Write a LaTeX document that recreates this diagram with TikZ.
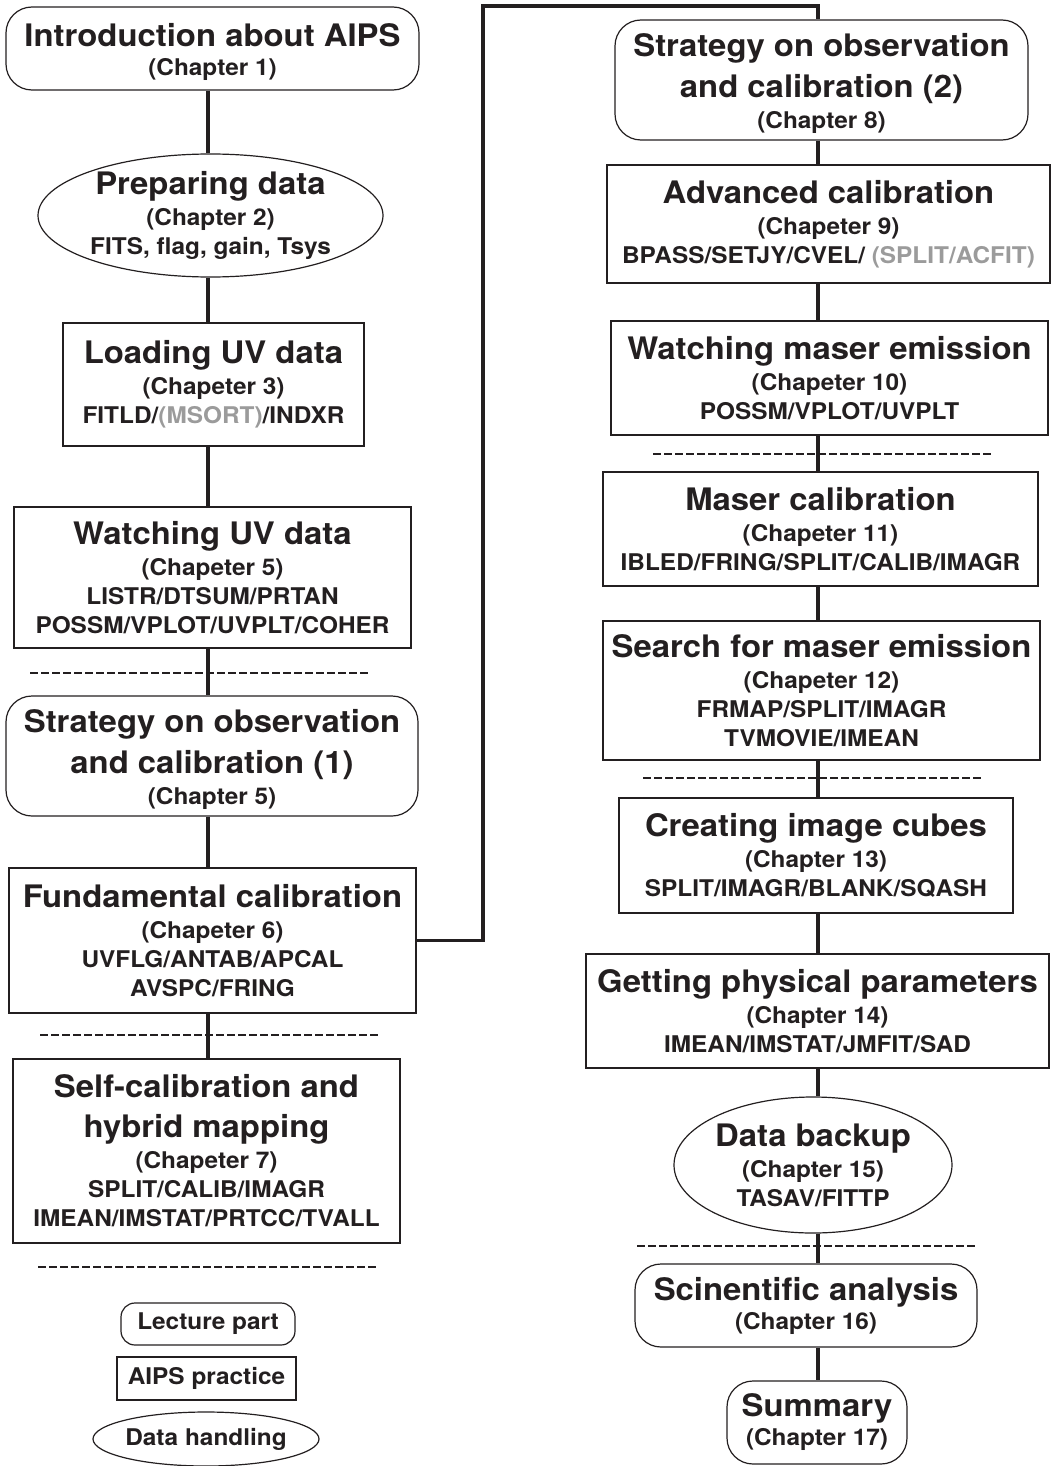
\documentclass[tikz,border=0pt]{standalone}
\usepackage{fontspec}
\setmainfont[FakeStretch=1.06]{TeX Gyre Heros}
\usepackage{xcolor}
\usetikzlibrary{shapes.geometric}
\definecolor{ink}{HTML}{231F20}
\definecolor{greyout}{HTML}{9B9B9B}
\newcommand{\titlesize}{\fontsize{31}{40}\selectfont}
\newcommand{\chapsize}{\fontsize{23}{29}\selectfont}
\newcommand{\lift}{\rule{0pt}{30pt}}

\begin{document}
\begin{tikzpicture}[x=1pt, y=-1pt, color=ink, font=\bfseries\chapsize,
	lecture/.style={draw, rounded corners=26pt, line width=1.2pt, align=center, inner sep=0pt},
	practice/.style={draw, rectangle, line width=1.2pt, align=center, inner sep=0pt},
	handling/.style={draw, ellipse, line width=1.2pt, align=center, inner sep=-14pt},
	link/.style={line width=3.5pt},
	sep/.style={line width=1.2pt, dash pattern=on 7.5pt off 3.5pt}]
	\useasboundingbox (0,0) rectangle (1051,1466);
	\coordinate (colL) at (208,0);
	\coordinate (colR) at (818,0);
	% left column
	\node[lecture, minimum width=413pt, minimum height=83pt] (intro) at (212.5,48.5)
	  {\lift{\titlesize Introduction about AIPS}\\ (Chapter 1)};
	\node[handling, minimum width=345pt, minimum height=123pt] (prep) at (210.5,215.5)
	  {{\titlesize Preparing data}\\[2pt] (Chapter 2)\\ FITS, flag, gain, Tsys};
	\node[practice, minimum width=301pt, minimum height=123pt] (load) at (213.5,384.5)
	  {{\titlesize Loading UV data}\\[2pt] (Chapeter 3)\\ FITLD/{\color{greyout}(MSORT)}/INDXR};
	\node[practice, minimum width=397pt, minimum height=141pt] (watchuv) at (212.5,577.5)
	  {{\titlesize Watching UV data}\\[2pt] (Chapeter 5)\\ LISTR/DTSUM/PRTAN\\ POSSM/VPLOT/UVPLT/COHER};
	\node[lecture, minimum width=412pt, minimum height=120pt] (strat1) at (212,756)
	  {\lift{\titlesize Strategy on observation}\\[11pt] {\titlesize and calibration (1)}\\[2pt] (Chapter 5)};
	\node[practice, minimum width=407pt, minimum height=145pt] (fund) at (212.5,940.5)
	  {{\titlesize Fundamental calibration}\\[2pt] (Chapeter 6)\\ UVFLG/ANTAB/APCAL\\ AVSPC/FRING};
	\node[practice, minimum width=387pt, minimum height=184pt] (self) at (206.5,1151)
	  {{\titlesize Self-calibration and}\\[11pt] {\titlesize hybrid mapping}\\[2pt] (Chapeter 7)\\ SPLIT/CALIB/IMAGR\\ IMEAN/IMSTAT/PRTCC/TVALL};
	% legend
	\node[lecture, rounded corners=14pt, minimum width=174pt, minimum height=42pt] (leglecture) at (208,1324) {Lecture part};
	\node[practice, minimum width=179pt, minimum height=43pt] (legpractice) at (206.5,1378.5) {AIPS practice};
	\node[handling, minimum width=226pt, minimum height=54pt] (leghandling) at (206,1439) {Data handling};
	% right column
	\node[lecture, minimum width=413pt, minimum height=120pt] (strat2) at (821.5,80)
	  {\lift{\titlesize Strategy on observation}\\[11pt] {\titlesize and calibration (2)}\\[2pt] (Chapter 8)};
	\node[practice, minimum width=443pt, minimum height=118pt] (adv) at (828.5,224)
	  {{\titlesize Advanced calibration}\\[2pt] (Chapeter 9)\\ BPASS/SETJY/CVEL/ {\color{greyout}(SPLIT/ACFIT)}};
	\node[practice, minimum width=437pt, minimum height=114pt] (watchm) at (829.5,378)
	  {{\titlesize Watching maser emission}\\[2pt] (Chapeter 10)\\ POSSM/VPLOT/UVPLT};
	\node[practice, minimum width=435pt, minimum height=114pt] (masercal) at (820.5,529)
	  {{\titlesize Maser calibration}\\[2pt] (Chapeter 11)\\ IBLED/FRING/SPLIT/CALIB/IMAGR};
	\node[practice, minimum width=437pt, minimum height=139pt] (search) at (821.5,690.5)
	  {{\titlesize Search for maser emission}\\[2pt] (Chapeter 12)\\ FRMAP/SPLIT/IMAGR\\ TVMOVIE/IMEAN};
	\node[practice, minimum width=394pt, minimum height=115pt] (cubes) at (816,855.5)
	  {{\titlesize Creating image cubes}\\[2pt] (Chapter 13)\\ SPLIT/IMAGR/BLANK/SQASH};
	\node[practice, minimum width=463pt, minimum height=114pt] (phys) at (817.5,1011)
	  {{\titlesize Getting physical parameters}\\[2pt] (Chapter 14)\\ IMEAN/IMSTAT/JMFIT/SAD};
	\node[handling, minimum width=278pt, minimum height=136pt] (backup) at (813,1165)
	  {{\titlesize Data backup}\\[2pt] (Chapter 15)\\ TASAV/FITTP};
	\node[lecture, minimum width=342pt, minimum height=83pt] (sci) at (806,1305.5)
	  {{\titlesize Scinentific analysis}\\ (Chapter 16)};
	\node[lecture, minimum width=180pt, minimum height=83pt] (summary) at (817,1422.5)
	  {{\titlesize Summary}\\ (Chapter 17)};
	% connectors
	\foreach \a/\b in {intro/prep, prep/load, load/watchuv, watchuv/strat1, strat1/fund, fund/self}
	  \draw[link] (\a.south -| colL) -- (\b.north -| colL);
	\foreach \a/\b in {strat2/adv, adv/watchm, watchm/masercal, masercal/search, search/cubes, cubes/phys, phys/backup, backup/sci, sci/summary}
	  \draw[link] (\a.south -| colR) -- (\b.north -| colR);
	\coordinate (bend) at (483,6);
	\draw[link] (fund.east) -| (bend) -| (strat2.north -| colR);
	% separators
	\draw[sep] (30,673) -- (368,673);
	\draw[sep] (40,1035) -- (379,1035);
	\draw[sep] (38,1267) -- (378,1267);
	\draw[sep] (653,454) -- (992,454);
	\draw[sep] (643,778) -- (983,778);
	\draw[sep] (637,1246) -- (977,1246);
\end{tikzpicture}
\end{document}
